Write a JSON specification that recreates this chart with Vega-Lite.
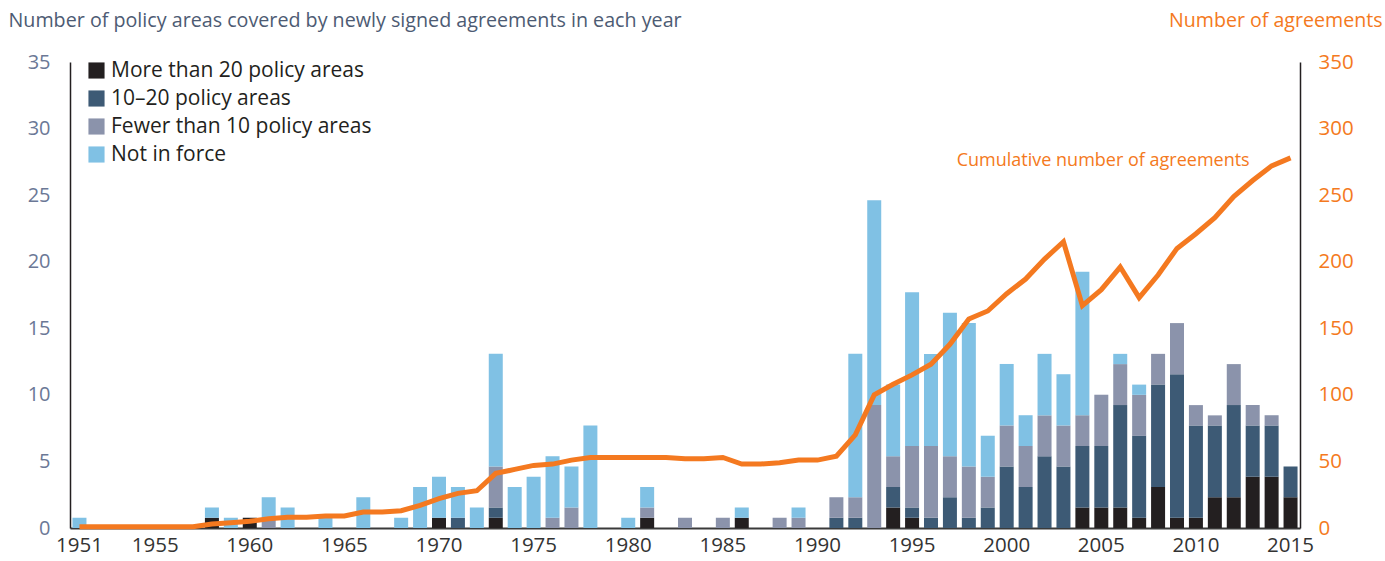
{
  "$schema": "https://vega.github.io/schema/vega-lite/v6.json",
  "width": 1230,
  "height": 466,
  "autosize": "none",
  "padding": {"left": 70, "top": 62, "right": 85, "bottom": 33},
  "background": "white",
  "config": {"view": {"stroke": null}, "font": "Open Sans", "axis": {"grid": false}},
  "datasets": {
    "bars": [
      {"year": 1951, "category": "Not in force", "value": 0.77},
      {"year": 1958, "category": "More than 20 policy areas", "value": 0.77},
      {"year": 1958, "category": "Not in force", "value": 0.77},
      {"year": 1959, "category": "Not in force", "value": 0.77},
      {"year": 1960, "category": "More than 20 policy areas", "value": 0.77},
      {"year": 1961, "category": "Fewer than 10 policy areas", "value": 0.77},
      {"year": 1961, "category": "Not in force", "value": 1.54},
      {"year": 1962, "category": "Not in force", "value": 1.54},
      {"year": 1964, "category": "Not in force", "value": 0.77},
      {"year": 1966, "category": "Not in force", "value": 2.31},
      {"year": 1968, "category": "Not in force", "value": 0.77},
      {"year": 1969, "category": "Not in force", "value": 3.08},
      {"year": 1970, "category": "More than 20 policy areas", "value": 0.77},
      {"year": 1970, "category": "Not in force", "value": 3.08},
      {"year": 1971, "category": "10–20 policy areas", "value": 0.77},
      {"year": 1971, "category": "Not in force", "value": 2.31},
      {"year": 1972, "category": "Not in force", "value": 1.54},
      {"year": 1973, "category": "More than 20 policy areas", "value": 0.77},
      {"year": 1973, "category": "10–20 policy areas", "value": 0.77},
      {"year": 1973, "category": "Fewer than 10 policy areas", "value": 3.08},
      {"year": 1973, "category": "Not in force", "value": 8.46},
      {"year": 1974, "category": "Not in force", "value": 3.08},
      {"year": 1975, "category": "Not in force", "value": 3.85},
      {"year": 1976, "category": "Fewer than 10 policy areas", "value": 0.77},
      {"year": 1976, "category": "Not in force", "value": 4.62},
      {"year": 1977, "category": "Fewer than 10 policy areas", "value": 1.54},
      {"year": 1977, "category": "Not in force", "value": 3.08},
      {"year": 1978, "category": "Not in force", "value": 7.69},
      {"year": 1980, "category": "Not in force", "value": 0.77},
      {"year": 1981, "category": "More than 20 policy areas", "value": 0.77},
      {"year": 1981, "category": "Fewer than 10 policy areas", "value": 0.77},
      {"year": 1981, "category": "Not in force", "value": 1.54},
      {"year": 1983, "category": "Fewer than 10 policy areas", "value": 0.77},
      {"year": 1985, "category": "Fewer than 10 policy areas", "value": 0.77},
      {"year": 1986, "category": "More than 20 policy areas", "value": 0.77},
      {"year": 1986, "category": "Not in force", "value": 0.77},
      {"year": 1988, "category": "Fewer than 10 policy areas", "value": 0.77},
      {"year": 1989, "category": "Fewer than 10 policy areas", "value": 0.77},
      {"year": 1989, "category": "Not in force", "value": 0.77},
      {"year": 1991, "category": "10–20 policy areas", "value": 0.77},
      {"year": 1991, "category": "Fewer than 10 policy areas", "value": 1.54},
      {"year": 1992, "category": "10–20 policy areas", "value": 0.77},
      {"year": 1992, "category": "Fewer than 10 policy areas", "value": 1.54},
      {"year": 1992, "category": "Not in force", "value": 10.77},
      {"year": 1993, "category": "Fewer than 10 policy areas", "value": 9.23},
      {"year": 1993, "category": "Not in force", "value": 15.38},
      {"year": 1994, "category": "More than 20 policy areas", "value": 1.54},
      {"year": 1994, "category": "10–20 policy areas", "value": 1.54},
      {"year": 1994, "category": "Fewer than 10 policy areas", "value": 2.31},
      {"year": 1994, "category": "Not in force", "value": 5.38},
      {"year": 1995, "category": "More than 20 policy areas", "value": 0.77},
      {"year": 1995, "category": "10–20 policy areas", "value": 0.77},
      {"year": 1995, "category": "Fewer than 10 policy areas", "value": 4.62},
      {"year": 1995, "category": "Not in force", "value": 11.54},
      {"year": 1996, "category": "10–20 policy areas", "value": 0.77},
      {"year": 1996, "category": "Fewer than 10 policy areas", "value": 5.38},
      {"year": 1996, "category": "Not in force", "value": 6.92},
      {"year": 1997, "category": "10–20 policy areas", "value": 2.31},
      {"year": 1997, "category": "Fewer than 10 policy areas", "value": 3.08},
      {"year": 1997, "category": "Not in force", "value": 10.77},
      {"year": 1998, "category": "10–20 policy areas", "value": 0.77},
      {"year": 1998, "category": "Fewer than 10 policy areas", "value": 3.85},
      {"year": 1998, "category": "Not in force", "value": 10.77},
      {"year": 1999, "category": "10–20 policy areas", "value": 1.54},
      {"year": 1999, "category": "Fewer than 10 policy areas", "value": 2.31},
      {"year": 1999, "category": "Not in force", "value": 3.08},
      {"year": 2000, "category": "10–20 policy areas", "value": 4.62},
      {"year": 2000, "category": "Fewer than 10 policy areas", "value": 3.08},
      {"year": 2000, "category": "Not in force", "value": 4.62},
      {"year": 2001, "category": "10–20 policy areas", "value": 3.08},
      {"year": 2001, "category": "Fewer than 10 policy areas", "value": 3.08},
      {"year": 2001, "category": "Not in force", "value": 2.31},
      {"year": 2002, "category": "10–20 policy areas", "value": 5.38},
      {"year": 2002, "category": "Fewer than 10 policy areas", "value": 3.08},
      {"year": 2002, "category": "Not in force", "value": 4.62},
      {"year": 2003, "category": "10–20 policy areas", "value": 4.62},
      {"year": 2003, "category": "Fewer than 10 policy areas", "value": 3.08},
      {"year": 2003, "category": "Not in force", "value": 3.85},
      {"year": 2004, "category": "More than 20 policy areas", "value": 1.54},
      {"year": 2004, "category": "10–20 policy areas", "value": 4.62},
      {"year": 2004, "category": "Fewer than 10 policy areas", "value": 2.31},
      {"year": 2004, "category": "Not in force", "value": 10.77},
      {"year": 2005, "category": "More than 20 policy areas", "value": 1.54},
      {"year": 2005, "category": "10–20 policy areas", "value": 4.62},
      {"year": 2005, "category": "Fewer than 10 policy areas", "value": 3.85},
      {"year": 2006, "category": "More than 20 policy areas", "value": 1.54},
      {"year": 2006, "category": "10–20 policy areas", "value": 7.69},
      {"year": 2006, "category": "Fewer than 10 policy areas", "value": 3.08},
      {"year": 2006, "category": "Not in force", "value": 0.77},
      {"year": 2007, "category": "More than 20 policy areas", "value": 0.77},
      {"year": 2007, "category": "10–20 policy areas", "value": 6.15},
      {"year": 2007, "category": "Fewer than 10 policy areas", "value": 3.08},
      {"year": 2007, "category": "Not in force", "value": 0.77},
      {"year": 2008, "category": "More than 20 policy areas", "value": 3.08},
      {"year": 2008, "category": "10–20 policy areas", "value": 7.69},
      {"year": 2008, "category": "Fewer than 10 policy areas", "value": 2.31},
      {"year": 2009, "category": "More than 20 policy areas", "value": 0.77},
      {"year": 2009, "category": "10–20 policy areas", "value": 10.77},
      {"year": 2009, "category": "Fewer than 10 policy areas", "value": 3.85},
      {"year": 2010, "category": "More than 20 policy areas", "value": 0.77},
      {"year": 2010, "category": "10–20 policy areas", "value": 6.92},
      {"year": 2010, "category": "Fewer than 10 policy areas", "value": 1.54},
      {"year": 2011, "category": "More than 20 policy areas", "value": 2.31},
      {"year": 2011, "category": "10–20 policy areas", "value": 5.38},
      {"year": 2011, "category": "Fewer than 10 policy areas", "value": 0.77},
      {"year": 2012, "category": "More than 20 policy areas", "value": 2.31},
      {"year": 2012, "category": "10–20 policy areas", "value": 6.92},
      {"year": 2012, "category": "Fewer than 10 policy areas", "value": 3.08},
      {"year": 2013, "category": "More than 20 policy areas", "value": 3.85},
      {"year": 2013, "category": "10–20 policy areas", "value": 3.85},
      {"year": 2013, "category": "Fewer than 10 policy areas", "value": 1.54},
      {"year": 2014, "category": "More than 20 policy areas", "value": 3.85},
      {"year": 2014, "category": "10–20 policy areas", "value": 3.85},
      {"year": 2014, "category": "Fewer than 10 policy areas", "value": 0.77},
      {"year": 2015, "category": "More than 20 policy areas", "value": 2.31},
      {"year": 2015, "category": "10–20 policy areas", "value": 2.31}
    ],
    "cum": [
      {"year": 1951, "cum": 1}, {"year": 1952, "cum": 1}, {"year": 1953, "cum": 1}, {"year": 1954, "cum": 1},
      {"year": 1955, "cum": 1}, {"year": 1956, "cum": 1}, {"year": 1957, "cum": 1}, {"year": 1958, "cum": 3},
      {"year": 1959, "cum": 4}, {"year": 1960, "cum": 5}, {"year": 1961, "cum": 7}, {"year": 1962, "cum": 8},
      {"year": 1963, "cum": 8}, {"year": 1964, "cum": 9}, {"year": 1965, "cum": 9}, {"year": 1966, "cum": 12},
      {"year": 1967, "cum": 12}, {"year": 1968, "cum": 13}, {"year": 1969, "cum": 17}, {"year": 1970, "cum": 22},
      {"year": 1971, "cum": 26}, {"year": 1972, "cum": 28}, {"year": 1973, "cum": 41}, {"year": 1974, "cum": 44},
      {"year": 1975, "cum": 47}, {"year": 1976, "cum": 48}, {"year": 1977, "cum": 51}, {"year": 1978, "cum": 53},
      {"year": 1979, "cum": 53}, {"year": 1980, "cum": 53}, {"year": 1981, "cum": 53}, {"year": 1982, "cum": 53},
      {"year": 1983, "cum": 52}, {"year": 1984, "cum": 52}, {"year": 1985, "cum": 53}, {"year": 1986, "cum": 48},
      {"year": 1987, "cum": 48}, {"year": 1988, "cum": 49}, {"year": 1989, "cum": 51}, {"year": 1990, "cum": 51},
      {"year": 1991, "cum": 54}, {"year": 1992, "cum": 70}, {"year": 1993, "cum": 100}, {"year": 1994, "cum": 108},
      {"year": 1995, "cum": 115}, {"year": 1996, "cum": 123}, {"year": 1997, "cum": 138}, {"year": 1998, "cum": 157},
      {"year": 1999, "cum": 163}, {"year": 2000, "cum": 176}, {"year": 2001, "cum": 187}, {"year": 2002, "cum": 202},
      {"year": 2003, "cum": 215}, {"year": 2004, "cum": 167}, {"year": 2005, "cum": 179}, {"year": 2006, "cum": 196},
      {"year": 2007, "cum": 173}, {"year": 2008, "cum": 190}, {"year": 2009, "cum": 210}, {"year": 2010, "cum": 221},
      {"year": 2011, "cum": 233}, {"year": 2012, "cum": 249}, {"year": 2013, "cum": 261}, {"year": 2014, "cum": 272},
      {"year": 2015, "cum": 278}
    ],
    "note": [
      {"year": 2013, "cum": 276, "label": "Cumulative number of agreements"}
    ]
  },
  "encoding": {
    "x": {
      "field": "year",
      "type": "ordinal",
      "scale": {"paddingInner": 0.26, "paddingOuter": 0.13},
      "axis": {
        "title": null,
        "values": [1951, 1955, 1960, 1965, 1970, 1975, 1980, 1985, 1990, 1995, 2000, 2005, 2010, 2015],
        "labelAngle": 0,
        "ticks": false,
        "domainColor": "#3a3a3a",
        "domainWidth": 2,
        "labelFontSize": 20.5,
        "labelColor": "#333333",
        "labelPadding": 7,
        "labelOverlap": false,
        "labelBound": false
      }
    }
  },
  "layer": [
    {
      "data": {"name": "bars"},
      "transform": [
        {"calculate": "indexof(['More than 20 policy areas', '10–20 policy areas', 'Fewer than 10 policy areas', 'Not in force'], datum.category)", "as": "stackIndex"}
      ],
      "mark": {"type": "bar"},
      "encoding": {
        "y": {
          "field": "value",
          "type": "quantitative",
          "stack": "zero",
          "scale": {"domain": [0, 35], "nice": false},
          "axis": {
            "values": [0, 5, 10, 15, 20, 25, 30, 35],
            "ticks": false,
            "grid": false,
            "domainColor": "#231f20",
            "domainWidth": 1.5,
            "labelFontSize": 20,
            "labelColor": "#6b7896",
            "labelPadding": 20,
            "title": "Number of policy areas covered by newly signed agreements in each year",
            "titleAngle": 0,
            "titleAlign": "left",
            "titleBaseline": "alphabetic",
            "titleX": -62,
            "titleY": -36,
            "titleFontSize": 19.7,
            "titleFontWeight": "normal",
            "titleColor": "#4d5b73"
          }
        },
        "color": {
          "field": "category",
          "type": "nominal",
          "sort": ["More than 20 policy areas", "10–20 policy areas", "Fewer than 10 policy areas", "Not in force"],
          "scale": {
            "domain": ["More than 20 policy areas", "10–20 policy areas", "Fewer than 10 policy areas", "Not in force"],
            "range": ["#231f20", "#3d5a75", "#8b93ab", "#80c1e4"]
          },
          "legend": {
            "title": null,
            "orient": "none",
            "legendX": 16,
            "legendY": -2,
            "symbolType": "square",
            "symbolSize": 260,
            "symbolStrokeWidth": 0,
            "labelFontSize": 21,
            "labelColor": "#231f20",
            "labelOffset": 4,
            "rowPadding": 6,
            "labelLimit": 400
          }
        },
        "order": {"field": "stackIndex", "type": "quantitative", "sort": "ascending"}
      }
    },
    {
      "layer": [
        {
          "data": {"name": "cum"},
          "mark": {"type": "line", "color": "#f47920", "strokeWidth": 5},
          "encoding": {
            "y": {
              "field": "cum",
              "type": "quantitative",
              "scale": {"domain": [0, 350], "nice": false},
              "axis": {
                "orient": "right",
                "values": [0, 50, 100, 150, 200, 250, 300, 350],
                "ticks": false,
                "grid": false,
                "domainColor": "#231f20",
                "domainWidth": 1.5,
                "labelFontSize": 20.5,
                "labelColor": "#f47920",
                "labelPadding": 18,
                "title": "Number of agreements",
                "titleAngle": 0,
                "titleAlign": "right",
                "titleBaseline": "alphabetic",
                "titleX": 82,
                "titleY": -36,
                "titleFontSize": 19.6,
                "titleFontWeight": "normal",
                "titleColor": "#f47920"
              }
            }
          }
        },
        {
          "data": {"name": "note"},
          "mark": {"type": "text", "align": "right", "baseline": "middle", "dx": -3, "fontSize": 18, "color": "#f47920"},
          "encoding": {
            "y": {"field": "cum", "type": "quantitative"},
            "text": {"field": "label"}
          }
        }
      ]
    }
  ],
  "resolve": {"scale": {"y": "independent"}}
}
